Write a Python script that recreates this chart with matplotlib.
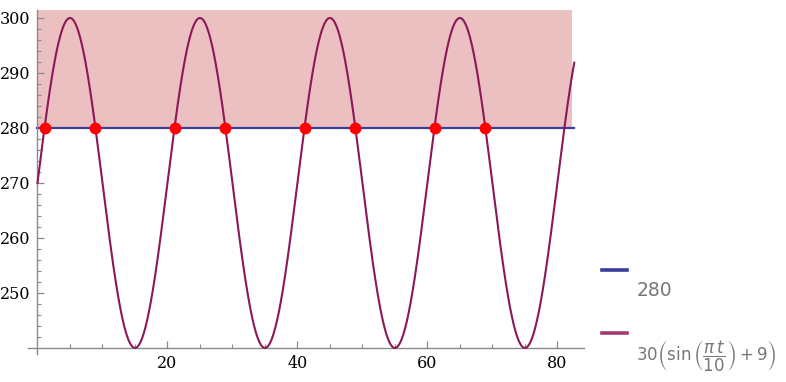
import numpy as np
import matplotlib
matplotlib.use("Agg")
import matplotlib.pyplot as plt
from matplotlib.lines import Line2D

# values
level = 280
amp = 30
offset = 9
t_end = 82.6
shade_top = 301.5
cross_t = [1.1, 8.9, 21.1, 28.9, 41.1, 48.9, 61.1, 68.9]
xticks = [20, 40, 60, 80]
yticks = [250, 260, 270, 280, 290, 300]

curve_col = "#8c1858"
level_col = "#3c3c9c"
shade_col = "#ecbfc0"
axis_col = "#8a8a8a"

t = np.linspace(0, t_end, 1200)
y = amp * (np.sin(np.pi * t / 10) + offset)

fig = plt.figure(figsize=(7.86, 3.82), dpi=100)
ax = fig.add_axes([28 / 786, 1 - 354 / 382, 556 / 786, 344 / 382])

ax.fill_between([0, 82.2], level, shade_top, color=shade_col, lw=0, zorder=1)
ax.plot([0, 82.5], [level, level], color=level_col, lw=1.6, zorder=2)
ax.plot(t, y, color=curve_col, lw=1.5, zorder=3)
ax.plot(cross_t, [level] * len(cross_t), "o", color="red", ms=7.5, zorder=4)

ax.set_xlim(-1.46, 84.1)
ax.set_ylim(238.9, 301.45)

for s in ["top", "right"]:
    ax.spines[s].set_visible(False)
ax.spines["left"].set_position(("data", 0))
ax.spines["bottom"].set_position(("data", 240))
for s in ["left", "bottom"]:
    ax.spines[s].set_color(axis_col)
    ax.spines[s].set_linewidth(1.0)

ax.set_xticks(xticks)
ax.set_yticks(yticks)
ax.set_xticks(np.arange(5, 84, 5), minor=True)
ax.set_yticks(np.arange(242, 302, 2), minor=True)
ax.tick_params(which="major", direction="in", length=5, color=axis_col, width=0.9,
               labelsize=11.5, pad=5)
ax.tick_params(which="minor", direction="in", length=3, color=axis_col, width=0.8)
for lab in ax.get_xticklabels() + ax.get_yticklabels():
    lab.set_fontfamily("DejaVu Serif")

ax.set_facecolor("none")

# legend on the right
fig.add_artist(Line2D([602 / 786, 627 / 786], [1 - 270 / 382] * 2, color=level_col, lw=2.6))
fig.text(637 / 786, 1 - 291 / 382, "280", color="#777777", fontsize=13.5,
         va="center", ha="left")
fig.add_artist(Line2D([602 / 786, 627 / 786], [1 - 333 / 382] * 2, color="#a03a74", lw=2.6))
fig.text(636 / 786, 1 - 356 / 382,
         r"$30\left(\sin\left(\dfrac{\pi\,t}{10}\right)+9\right)$",
         color="#777777", fontsize=12, va="center", ha="left")

fig.savefig("out.png", dpi=100)
